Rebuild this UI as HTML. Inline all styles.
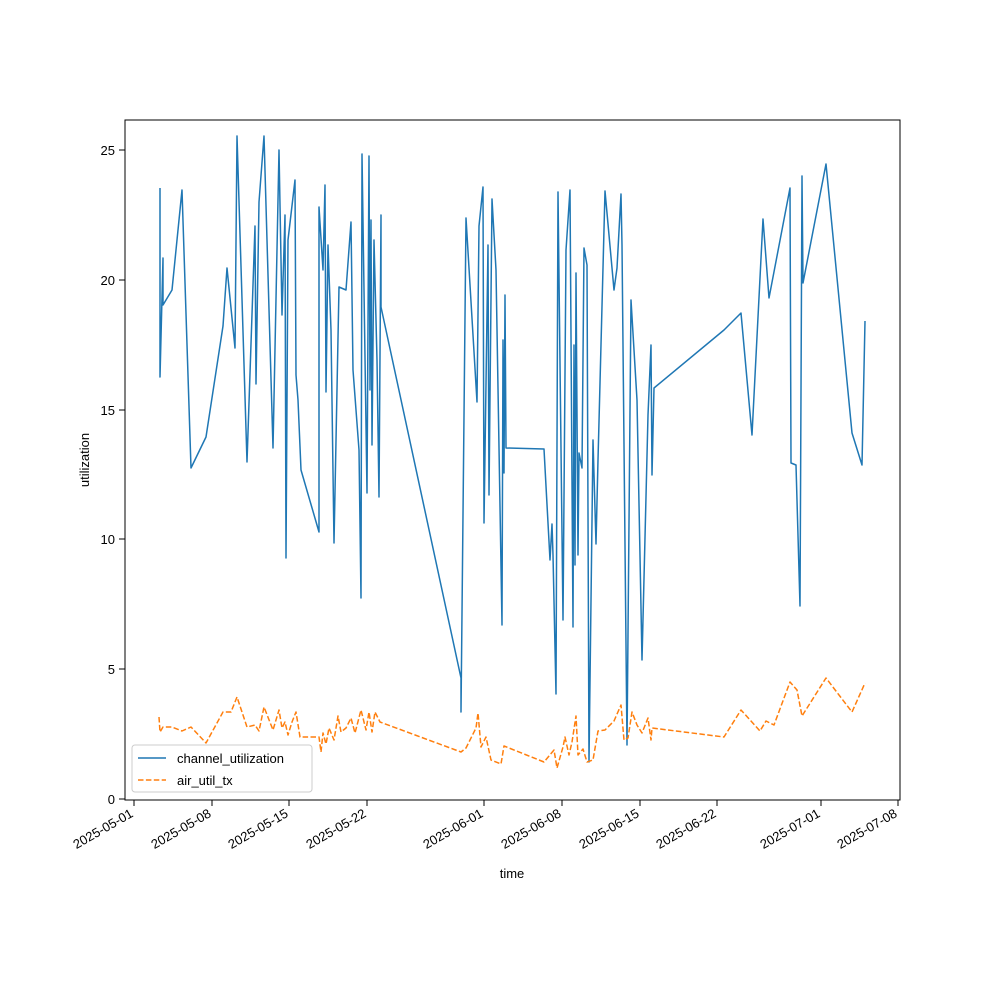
<!DOCTYPE html>
<html><head><meta charset="utf-8"><style>body{margin:0;background:#fff}svg{display:block}text{font-family:"Liberation Sans","DejaVu Sans",sans-serif;font-size:13px;fill:#000}</style></head><body>
<svg width="1000" height="1000" viewBox="0 0 1000 1000">
<rect width="1000" height="1000" fill="#fff"/>
<g stroke="#000" stroke-width="1">
<line x1="125" y1="799" x2="119" y2="799"/><line x1="125" y1="669" x2="119" y2="669"/><line x1="125" y1="539" x2="119" y2="539"/><line x1="125" y1="410" x2="119" y2="410"/><line x1="125" y1="280" x2="119" y2="280"/><line x1="125" y1="150" x2="119" y2="150"/>
<line x1="134" y1="800" x2="134" y2="806"/><line x1="212" y1="800" x2="212" y2="806"/><line x1="289" y1="800" x2="289" y2="806"/><line x1="367" y1="800" x2="367" y2="806"/><line x1="484" y1="800" x2="484" y2="806"/><line x1="562" y1="800" x2="562" y2="806"/><line x1="640" y1="800" x2="640" y2="806"/><line x1="717" y1="800" x2="717" y2="806"/><line x1="821" y1="800" x2="821" y2="806"/><line x1="898" y1="800" x2="898" y2="806"/>
</g>
<g text-anchor="end"><text x="115" y="804">0</text><text x="115" y="674">5</text><text x="115" y="544">10</text><text x="115" y="415">15</text><text x="115" y="285">20</text><text x="115" y="155">25</text></g>
<g text-anchor="end">
<text transform="translate(134,816) rotate(-30)">2025-05-01</text>
<text transform="translate(212,816) rotate(-30)">2025-05-08</text>
<text transform="translate(289,816) rotate(-30)">2025-05-15</text>
<text transform="translate(367,816) rotate(-30)">2025-05-22</text>
<text transform="translate(484,816) rotate(-30)">2025-06-01</text>
<text transform="translate(562,816) rotate(-30)">2025-06-08</text>
<text transform="translate(640,816) rotate(-30)">2025-06-15</text>
<text transform="translate(717,816) rotate(-30)">2025-06-22</text>
<text transform="translate(821,816) rotate(-30)">2025-07-01</text>
<text transform="translate(898,816) rotate(-30)">2025-07-08</text>
</g>
<text x="512" y="878" text-anchor="middle">time</text>
<text transform="translate(89,460) rotate(-90)" text-anchor="middle">utilization</text>
<polyline fill="none" stroke="#1f77b4" stroke-width="1.5" stroke-linejoin="round" points="160,188 160,377 163,258 163,305 172,290 182,190 191,468 206,437 223,326 227,268 235,348 237,136 247,462 255,226 256,384 259,202 264,136 273,448 279,150 282,315 285,215 286,558 288,240 295,180 296,375 298,400 301,470 319,532 319,207 323,270 325,185 326,392 328,245 331,330 334,543 339,287 346,290 351,222 353,370 359,450 361,598 362,154 367,493 369,156 370,390 371,220 372,445 374,240 377,360 379,497 381,215 381,307 461,678 461,712 466,218 477,402 479,226 483,187 484,523 488,245 489,495 492,199 496,270 502,625 503,340 504,473 505,295 506,448 544,449 550,560 552,524 553,555 556,694 558,192 563,620 566,250 570,190 573,627 574,345 575,565 576,273 578,555 579,453 582,468 584,248 587,265 589,762 593,440 596,544 598,460 605,191 614,290 617,268 621,194 622,245 627,745 631,300 637,400 642,660 648,415 651,345 652,475 654,388 724,330 741,313 752,435 763,219 769,298 790,188 791,463 796,465 800,606 802,176 803,283 826,164 852,433 862,465 865,321"/>
<polyline fill="none" stroke="#ff7f0e" stroke-width="1.5" stroke-dasharray="5.5,2.4" stroke-linejoin="round" points="159,717 160,732 163,727 172,727 182,731 191,727 206,743 223,712 231,712 237,697 247,727 255,725 259,731 264,707 273,730 279,710 282,728 285,722 288,735 292,722 296,712 300,737 319,737 321,752 323,733 326,744 329,728 334,740 338,716 341,732 346,728 351,718 355,733 361,710 366,730 369,712 372,732 375,712 380,722 461,752 466,748 476,728 478,713 481,747 486,737 491,760 501,764 504,746 544,762 554,750 557,768 563,747 565,737 569,755 572,742 576,716 578,755 583,749 587,762 593,760 598,731 605,730 614,721 621,705 624,740 628,738 632,712 637,725 642,733 648,718 651,740 652,728 724,737 741,710 760,731 766,721 774,725 790,682 797,690 802,716 826,678 852,712 865,683"/>
<rect x="125" y="120" width="775" height="680" fill="none" stroke="#000" stroke-width="1"/>
<rect x="132" y="745" width="180" height="47" rx="3" fill="#fff" fill-opacity="0.8" stroke="#ccc"/>
<line x1="138" y1="758" x2="166" y2="758" stroke="#1f77b4" stroke-width="1.5"/>
<line x1="138" y1="780" x2="166" y2="780" stroke="#ff7f0e" stroke-width="1.5" stroke-dasharray="5.5,2.4"/>
<text x="177" y="763">channel_utilization</text>
<text x="177" y="785">air_util_tx</text>
</svg>
</body></html>
